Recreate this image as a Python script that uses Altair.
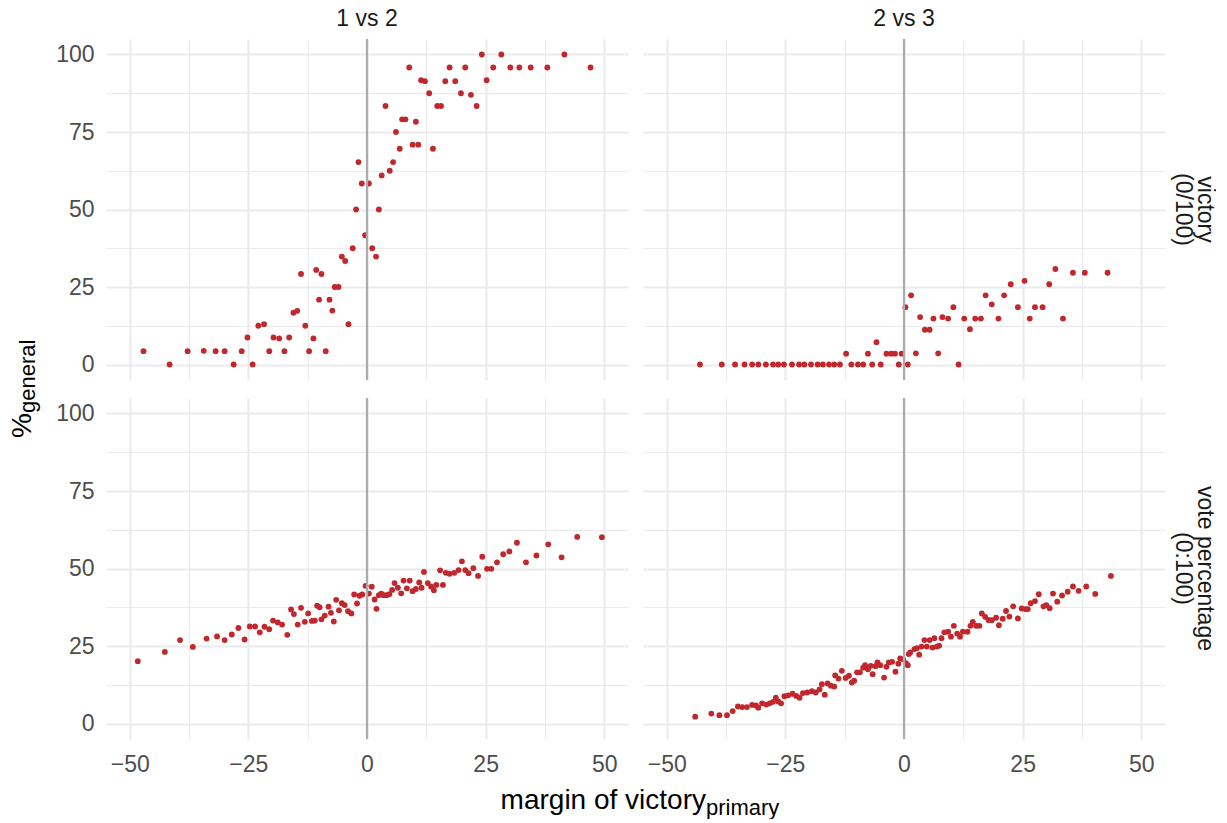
import altair as alt
import pandas as pd

# ---------------- data ----------------
COMPARISONS = ["1 vs 2", "2 vs 3"]
KINDS = ["victory|(0/100)", "vote percentage|(0:100)"]

# victory (0/100), 1 vs 2
vic12_x = [-47.1, -41.6, -37.8, -34.4, -31.9, -30.0, -28.1, -26.4, -25.2, -24.1,
           -22.9, -21.7, -20.6, -19.7, -18.5, -17.4, -16.4, -15.5, -14.7, -13.9,
           -13.0, -12.2, -11.3, -10.7, -10.1, -9.6, -8.7, -7.9, -7.3, -6.8,
           -6.0, -5.3, -4.6, -3.9, -3.0, -2.3, -1.8, -1.1, -0.4, 0.4,
           1.1, 1.9, 2.5, 3.1, 3.9, 4.8, 5.5, 6.1, 6.9, 7.4,
           8.1, 8.9, 9.6, 10.3, 10.8, 11.4, 12.2, 13.1, 13.9, 14.8,
           15.6, 16.5, 17.4, 18.6, 19.8, 20.7, 21.9, 23.1, 24.2, 25.2,
           26.6, 28.3, 30.2, 32.1, 34.5, 38.0, 41.6, 47.1]
vic12_y = [4.3, 0, 4.3, 4.4, 4.3, 4.3, 0, 4.3, 8.7, 0,
           12.5, 13.0, 4.3, 8.7, 8.4, 4.3, 8.7, 16.7, 17.3, 29.2,
           12.5, 4.3, 8.4, 30.5, 20.9, 29.2, 4.3, 20.9, 17.4, 25.0,
           25.0, 34.8, 33.4, 13.0, 37.5, 50.0, 65.3, 58.4, 41.7, 58.4,
           37.5, 34.8, 50.0, 61.0, 83.4, 62.5, 65.3, 75.0, 69.6, 79.1,
           79.1, 95.8, 70.9, 78.3, 70.9, 91.7, 91.4, 87.5, 69.6, 83.4,
           83.4, 91.4, 95.8, 91.4, 87.5, 95.8, 87.0, 83.4, 100.0, 91.7,
           95.8, 100.0, 95.8, 95.8, 95.8, 95.8, 100.0, 95.8]

# victory (0/100), 2 vs 3
vic23_x = [-43.0, -38.4, -35.6, -33.6, -32.0, -30.7, -29.1, -27.6, -26.5, -25.3,
           -23.6, -22.1, -21.0, -19.6, -18.2, -17.1, -15.8, -14.7, -13.5, -12.2,
           -11.1, -9.7, -8.6, -7.6, -6.7, -5.8, -4.9, -3.7, -2.7, -1.9,
           -1.1, -0.5, 0.3, 0.8, 1.5, 2.5, 3.4, 4.4, 5.4, 6.2,
           7.2, 8.1, 9.3, 10.4, 11.5, 12.7, 13.9, 15.0, 16.2, 17.2,
           18.5, 19.9, 21.1, 22.5, 24.0, 25.4, 26.5, 27.6, 29.2, 30.6,
           31.9, 33.5, 35.6, 38.1, 42.9]
vic23_y = [0, 0, 0, 0, 0, 0, 0, 0, 0, 0,
           0, 0, 0, 0, 0, 0, 0, 0, 0, 3.5,
           0, 0, 0, 3.5, 0, 7.2, 0, 3.5, 3.5, 3.5,
           0, 3.5, 18.5, 0, 22.3, 3.6, 15.3, 11.2, 11.2, 14.8,
           3.6, 15.3, 14.8, 18.5, 0, 14.8, 11.4, 14.8, 14.8, 22.3,
           19.4, 14.8, 22.3, 25.9, 18.5, 27.0, 14.8, 18.5, 18.5, 25.9,
           30.8, 14.8, 29.6, 29.6, 29.6]

# vote percentage (0:100), 1 vs 2
vote12_x = [-48.3, -42.6, -39.4, -36.7, -33.8, -31.6, -30.0, -28.5, -27.1, -25.8,
            -24.7, -23.6, -22.6, -21.6, -20.6, -19.8, -18.8, -17.9, -16.8, -16.0,
            -15.4, -14.6, -13.9, -13.1, -12.4, -11.6, -11.0, -10.5, -10.0, -9.6,
            -8.9, -8.1, -7.6, -7.0, -6.5, -5.9, -5.3, -4.7, -4.0, -3.3,
            -2.7, -2.1, -1.6, -1.0, -0.3, 0.4, 1.0, 1.6, 2.0, 2.5,
            3.0, 3.5, 4.1, 4.7, 5.3, 5.8, 6.5, 7.2, 7.7, 8.4,
            9.0, 9.6, 10.3, 11.0, 11.5, 12.0, 12.8, 13.5, 14.1, 14.6,
            15.4, 16.0, 16.6, 17.4, 18.4, 19.3, 20.0, 20.7, 21.4, 22.4,
            23.4, 24.3, 25.3, 26.2, 27.4, 28.7, 30.0, 31.6, 33.5, 35.7,
            38.2, 41.0, 44.3, 49.5]
vote12_y = [20.1, 23.1, 26.9, 24.7, 27.4, 28.1, 26.9, 28.7, 30.8, 27.1,
            31.3, 31.3, 29.4, 31.2, 30.4, 33.2, 32.6, 31.9, 28.6, 36.8,
            35.3, 31.9, 37.3, 32.8, 35.5, 33.1, 33.2, 38.0, 37.5, 33.6,
            34.8, 37.7, 35.7, 32.9, 39.9, 36.5, 38.8, 38.2, 36.2, 35.5,
            41.6, 38.7, 41.2, 41.6, 44.4, 41.9, 44.1, 40.0, 37.0, 41.4,
            41.9, 41.4, 41.4, 41.7, 43.1, 45.3, 43.8, 42.0, 46.1, 43.6,
            46.1, 42.7, 43.4, 45.5, 43.8, 48.9, 45.3, 44.2, 43.0, 44.7,
            49.4, 44.7, 48.6, 48.3, 48.6, 49.5, 52.3, 49.5, 48.5, 50.1,
            47.6, 53.8, 49.9, 49.9, 52.0, 54.6, 55.5, 58.3, 52.0, 54.2,
            57.8, 53.6, 60.2, 60.1]

# vote percentage (0:100), 2 vs 3
vote23_x = [-44.0, -40.6, -38.9, -37.3, -36.1, -35.0, -34.1, -33.1, -32.0, -31.2,
            -30.7, -29.9, -29.0, -28.3, -27.6, -27.0, -26.5, -25.9, -25.2, -24.4,
            -23.5, -22.7, -22.0, -21.3, -20.4, -19.4, -18.6, -17.8, -17.3, -16.7,
            -16.1, -15.4, -14.7, -14.5, -13.8, -13.1, -12.3, -11.6, -11.0, -10.5,
            -9.9, -9.3, -8.6, -8.2, -7.6, -7.0, -6.6, -6.0, -5.6, -5.0,
            -4.2, -3.7, -3.2, -2.5, -1.8, -1.2, -0.8, -0.2, 0.4, 0.8,
            1.0, 1.3, 2.2, 2.7, 3.2, 3.7, 4.3, 4.8, 5.4, 6.0,
            6.4, 6.9, 7.4, 7.9, 8.5, 9.3, 9.9, 10.5, 11.2, 11.8,
            12.4, 13.4, 14.0, 14.5, 15.2, 15.9, 16.4, 17.1, 17.8, 18.5,
            19.4, 20.0, 20.8, 21.5, 22.2, 23.0, 24.0, 24.8, 25.6, 26.1,
            26.7, 27.6, 28.4, 29.4, 30.0, 30.7, 31.4, 32.3, 33.3, 34.5,
            35.6, 36.8, 38.4, 40.3, 43.6]
vote23_y = [2.2, 3.2, 2.7, 2.7, 4.0, 5.5, 5.3, 5.3, 6.0, 5.8,
            5.1, 6.5, 6.1, 6.5, 7.0, 8.3, 7.1, 6.5, 8.8, 9.1,
            9.6, 8.9, 8.3, 9.8, 10.0, 10.4, 10.0, 11.0, 12.7, 9.3,
            12.9, 12.2, 11.9, 15.5, 14.5, 17.0, 14.7, 15.4, 13.2, 13.8,
            16.5, 16.5, 18.0, 18.8, 17.5, 18.6, 15.9, 18.5, 19.7, 18.8,
            14.8, 18.3, 19.7, 19.9, 16.7, 19.3, 21.0, 20.7, 19.5, 18.8,
            22.4, 22.9, 24.0, 24.3, 22.2, 24.8, 26.9, 24.8, 26.9, 24.5,
            27.5, 24.8, 25.1, 27.5, 29.4, 29.6, 28.0, 31.5, 29.0, 28.0,
            29.6, 29.6, 31.5, 32.8, 31.5, 31.5, 35.5, 34.4, 33.4, 33.3,
            34.1, 31.7, 33.8, 36.3, 34.5, 37.8, 33.9, 37.1, 36.9, 36.9,
            38.8, 39.5, 41.7, 37.8, 38.2, 37.2, 41.9, 39.3, 41.3, 42.5,
            44.2, 42.8, 44.2, 41.8, 47.6]

X_MAJOR = [-50, -25, 0, 25, 50]
X_MINOR = [-37.5, -12.5, 12.5, 37.5]
Y_MAJOR = [0, 25, 50, 75, 100]
Y_MINOR = [12.5, 37.5, 62.5, 87.5]

X_TITLE_MAIN = "margin of victory"
X_TITLE_SUB = "primary"
Y_TITLE_MAIN = "%"
Y_TITLE_SUB = "general"

# ---------------- table ----------------
frames = []
for xs, ys, cmp_, kind in [
    (vic12_x, vic12_y, COMPARISONS[0], KINDS[0]),
    (vic23_x, vic23_y, COMPARISONS[1], KINDS[0]),
    (vote12_x, vote12_y, COMPARISONS[0], KINDS[1]),
    (vote23_x, vote23_y, COMPARISONS[1], KINDS[1]),
]:
    frames.append(pd.DataFrame({"margin": xs, "general": ys, "cmp": cmp_, "kind": kind}))
df = pd.concat(frames, ignore_index=True)

FONT = "Liberation Sans"
GRID = "#EBEBEB"
TICK_FS = 23
TITLE_FS = 28
SUB_FS = 22

grid_w_x = {"condition": {"test": "abs(datum.value) % 25 === 0", "value": 2.2}, "value": 1.1}
grid_w_y = {"condition": {"test": "datum.value % 25 === 0", "value": 2.2}, "value": 1.1}

x_enc = alt.X(
    "margin:Q",
    scale=alt.Scale(domain=[-55, 55], nice=False, zero=False),
    axis=alt.Axis(
        values=sorted(X_MAJOR + X_MINOR),
        labelExpr="abs(datum.value) % 25 === 0 ? replace(datum.label, '-', '\u2212') : ''",
        title=None, grid=True, gridColor=GRID, gridWidth=grid_w_x,
        ticks=False, domain=False, labelPadding=12,
        labelFontSize=TICK_FS, labelColor="#4D4D4D", labelFont=FONT,
    ),
)
y_enc = alt.Y(
    "general:Q",
    scale=alt.Scale(domain=[-5, 105], nice=False, zero=False),
    axis=alt.Axis(
        values=sorted(Y_MAJOR + Y_MINOR),
        labelExpr="datum.value % 25 === 0 ? datum.label : ''",
        title=None, grid=True, gridColor=GRID, gridWidth=grid_w_y,
        ticks=False, domain=False, labelPadding=12,
        labelFontSize=TICK_FS, labelColor="#4D4D4D", labelFont=FONT,
    ),
)

PW, PH = 522, 341

vline = (
    alt.Chart()
    .transform_aggregate(n="count()", groupby=["cmp", "kind"])
    .mark_rule(color="#ABABAB", strokeWidth=2.2)
    .encode(x=alt.datum(0))
)
points = (
    alt.Chart()
    .mark_circle(size=34, color="#C0282D", opacity=1)
    .encode(x=x_enc, y=y_enc)
)

facet = (
    alt.layer(points, vline, data=df)
    .properties(width=PW, height=PH)
    .facet(
        column=alt.Column(
            "cmp:N", sort=COMPARISONS, title=None,
            header=alt.Header(labelFontSize=TICK_FS, labelColor="#1A1A1A", labelFont=FONT,
                              labelPadding=6),
        ),
        row=alt.Row(
            "kind:N", sort=KINDS, title=None,
            header=alt.Header(labelOrient="right", labelAngle=90, labelFontSize=TICK_FS,
                              labelColor="#1A1A1A", labelFont=FONT, labelPadding=6,
                              labelExpr="split(datum.value, '|')", labelLineHeight=22),
        ),
        spacing={"row": 14, "column": 15},
    )
)

# y title with subscript
yt_main = alt.Chart(pd.DataFrame({"t": [Y_TITLE_MAIN]})).mark_text(
    angle=270, align="right", baseline="alphabetic", fontSize=TITLE_FS, font=FONT, color="black"
).encode(text="t:N", x=alt.value(23), y=alt.value(374))
yt_sub = alt.Chart(pd.DataFrame({"t": [Y_TITLE_SUB]})).mark_text(
    angle=270, align="left", baseline="alphabetic", fontSize=SUB_FS, font=FONT, color="black", dy=4
).encode(text="t:N", x=alt.value(23), y=alt.value(374))
ytitle = alt.layer(yt_main, yt_sub).properties(width=47, height=700)

# x title with subscript
xt_main = alt.Chart(pd.DataFrame({"t": [X_TITLE_MAIN]})).mark_text(
    align="right", baseline="alphabetic", fontSize=TITLE_FS, font=FONT, color="black"
).encode(text="t:N", x=alt.value(600), y=alt.value(33))
xt_sub = alt.Chart(pd.DataFrame({"t": [X_TITLE_SUB]})).mark_text(
    align="left", baseline="alphabetic", fontSize=SUB_FS, font=FONT, color="black", dy=6
).encode(text="t:N", x=alt.value(600), y=alt.value(33))
xtitle = alt.layer(xt_main, xt_sub).properties(width=1100, height=42)

chart = (
    alt.hconcat(ytitle, alt.vconcat(facet, xtitle, spacing=0), spacing=0)
    .properties(padding=0)
    .configure_view(strokeWidth=0)
)

chart.save("out.html", embed_options={"renderer": "svg", "actions": False})
